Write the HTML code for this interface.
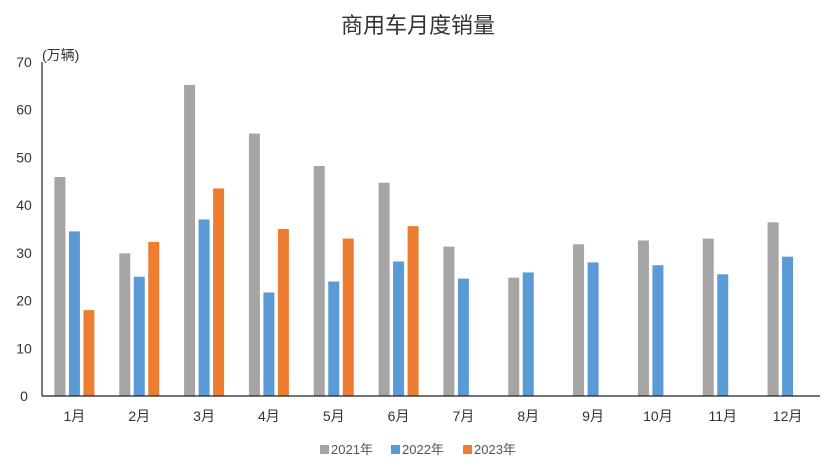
<!DOCTYPE html>
<html><head><meta charset="utf-8"><style>
body{margin:0;background:#fff;}
svg{display:block;font-family:"Liberation Sans","Noto Sans CJK SC",sans-serif;}
</style></head><body>
<svg id="chart" width="832" height="466" viewBox="0 0 832 466">
<text x="418" y="33" text-anchor="middle" font-size="22" fill="#333">商用车月度销量</text>
<text x="42" y="60" font-size="14" fill="#333">(万辆)</text>
<g id="grid"></g><g id="bars"></g><g id="axes"></g>
<g font-size="13" fill="#555">
<rect x="320" y="445" width="9" height="9" fill="#a5a5a5"/>
<text x="331" y="454">2021年</text>
<rect x="391" y="445" width="9" height="9" fill="#5b9bd5"/>
<text x="402" y="454">2022年</text>
<rect x="463" y="445" width="9" height="9" fill="#ed7d31"/>
<text x="474" y="454">2023年</text>
</g>
</svg>
<script>
const categories=["1月","2月","3月","4月","5月","6月","7月","8月","9月","10月","11月","12月"];
const s2021=[45.9,29.9,65.2,55,48.2,44.7,31.3,24.8,31.8,32.6,33,36.4];
const s2022=[34.5,25,37,21.7,24,28.2,24.6,25.9,28,27.4,25.5,29.2];
const s2023=[18,32.3,43.5,35,33,35.6,null,null,null,null,null,null];
const yTicks=[0,10,20,30,40,50,60,70];
const ns="http://www.w3.org/2000/svg";
const x0=42,x1=820,yb=396,yt=62,ymax=70;
const bw=(x1-x0)/categories.length;
function y(v){return yb-(v/ymax)*(yb-yt);}
function xc(i){return x0+bw*(i+0.5);}
function mk(tag,attrs,parent){const e=document.createElementNS(ns,tag);for(const k in attrs)e.setAttribute(k,attrs[k]);parent.appendChild(e);return e;}
const bars=document.getElementById('bars'),axes=document.getElementById('axes');
const series=[[s2021,"#a5a5a5","2021"],[s2022,"#5b9bd5","2022"],[s2023,"#ed7d31","2023"]];
categories.forEach((c,i)=>{
  series.forEach((s,j)=>{
    const v=s[0][i]; if(v==null)return;
    const r=mk('rect',{x:xc(i)+(j-1)*14.5-5.5,y:y(v),width:11,height:yb-y(v),fill:s[1]},bars);
    
    
  });
  const t=mk('text',{x:xc(i),y:421,'text-anchor':'middle','font-size':14,fill:'#333'},axes);
  t.textContent=c;
  
  
});
yTicks.forEach(v=>{
  const t=mk('text',{x:24,y:y(v)+5,'text-anchor':'middle','font-size':14,fill:'#333'},axes);
  t.textContent=v;
  
  
});
const ya=mk('line',{x1:x0,y1:yt,x2:x0,y2:yb,stroke:'#222','stroke-width':1.2},axes);


const xa=mk('line',{x1:x0,y1:yb,x2:x1,y2:yb,stroke:'#222','stroke-width':1.2},axes);


</script>
</body></html>
